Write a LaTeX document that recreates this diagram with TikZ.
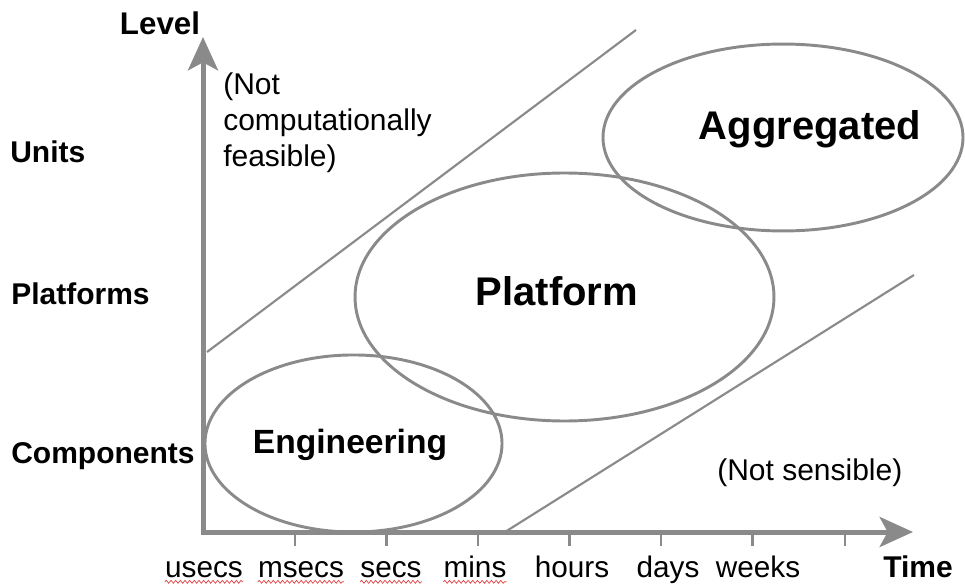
\documentclass[tikz,border=0pt]{standalone}
\usepackage{fontspec}
\setmainfont{Liberation Sans}
\usetikzlibrary{arrows.meta,decorations.pathmorphing}
\definecolor{linegray}{RGB}{138,138,138}
\definecolor{squigred}{RGB}{225,60,60}
\begin{document}
\begin{tikzpicture}[x=0.75pt,y=-0.75pt,
  axisline/.style={draw=linegray, line width=3.75pt, line join=miter,
    {Stealth[length=25pt, width=22.5pt, inset=6pt]}-{Stealth[length=25pt, width=22.5pt, inset=6pt]}},
  tickline/.style={draw=linegray, line width=2.2pt},
  diagline/.style={draw=linegray, line width=1.6pt},
  region/.style={draw=linegray, line width=2.2pt},
  levellbl/.style={font=\bfseries\fontsize{22.5}{27}\selectfont, anchor=base west, inner sep=0pt},
  ticklbl/.style={font=\fontsize{22.3}{27}\selectfont, anchor=base, inner sep=0pt},
  regiontxt/.style={font=\bfseries\fontsize{30}{36}\selectfont, anchor=base, inner sep=0pt},
  notetxt/.style={font=\fontsize{22.5}{27}\selectfont, inner sep=0pt, align=left},
  squiggle/.style={draw=squigred, line width=0.5pt, decorate, decoration={snake, amplitude=1.1pt, segment length=3.5pt}}]
\useasboundingbox (0,0) rectangle (965,585);

% axes
\coordinate (O) at (203,532);
\coordinate (ytip) at (203,37);
\coordinate (xtip) at (913,532);

% ellipses
\draw[region] (353.5,443.5) ellipse [x radius=111.4pt, y radius=66.4pt];
\draw[region] (564.5,297) ellipse [x radius=157.1pt, y radius=93pt];
\draw[region] (783,137.5) ellipse [x radius=135pt, y radius=70.1pt];

% diagonal boundaries
\coordinate (u1) at (207,352);
\coordinate (u2) at (636,30);
\coordinate (l1) at (505,532);
\coordinate (l2) at (914,275);
\draw[diagline] (u1) -- (u2);
\draw[diagline] (l1) -- (l2);

% ticks
\foreach \i/\xx in {1/295,2/386.5,3/478,4/569.5,5/661,6/752.5,7/845} {
  \coordinate (t\i) at (\xx,532);
  \coordinate (tb\i) at (\xx,546);
  \draw[tickline] (t\i) -- (tb\i);
}

\draw[axisline] (ytip) |- (xtip);

% level labels
\node[levellbl] (units) at (10,162) {Units};
\node[levellbl] (platforms) at (11,304) {Platforms};
\node[levellbl] (components) at (11,463) {Components};
\node[font=\bfseries\fontsize{23.5}{28}\selectfont, anchor=base, inner sep=0pt] (level) at (160,35) {Level};

% time labels
\node[ticklbl] (usecs) at (204,577) {usecs};
\node[ticklbl] (msecs) at (301,577) {msecs};
\node[ticklbl] (secs) at (391,577) {secs};
\node[ticklbl] (mins) at (475,577) {mins};
\node[ticklbl] (hours) at (572,577) {hours};
\node[ticklbl] (days) at (668,577) {days};
\node[ticklbl] (weeks) at (758,577) {weeks};
\node[font=\bfseries\fontsize{22.5}{27}\selectfont, anchor=base, inner sep=0pt] (time) at (918,577) {Time};

% spell-check squiggles
\foreach \n in {usecs,msecs,secs,mins} {
  \draw[squiggle] ([yshift=-3.6pt]\n.base west) -- ([yshift=-3.6pt]\n.base east);
}

% region texts
\node[regiontxt, font=\bfseries\fontsize{25.2}{30}\selectfont] (eng) at (350,453) {Engineering};
\node[regiontxt] (plat) at (557,305) {Platform};
\node[regiontxt] (agg) at (810,140) {Aggregated};

% notes
\node[notetxt, anchor=north west] (nocomp) at (223,72) {(Not\\computationally\\feasible)};
\node[notetxt, anchor=base west] (nosens) at (717,480) {(Not sensible)};
\end{tikzpicture}
\end{document}
